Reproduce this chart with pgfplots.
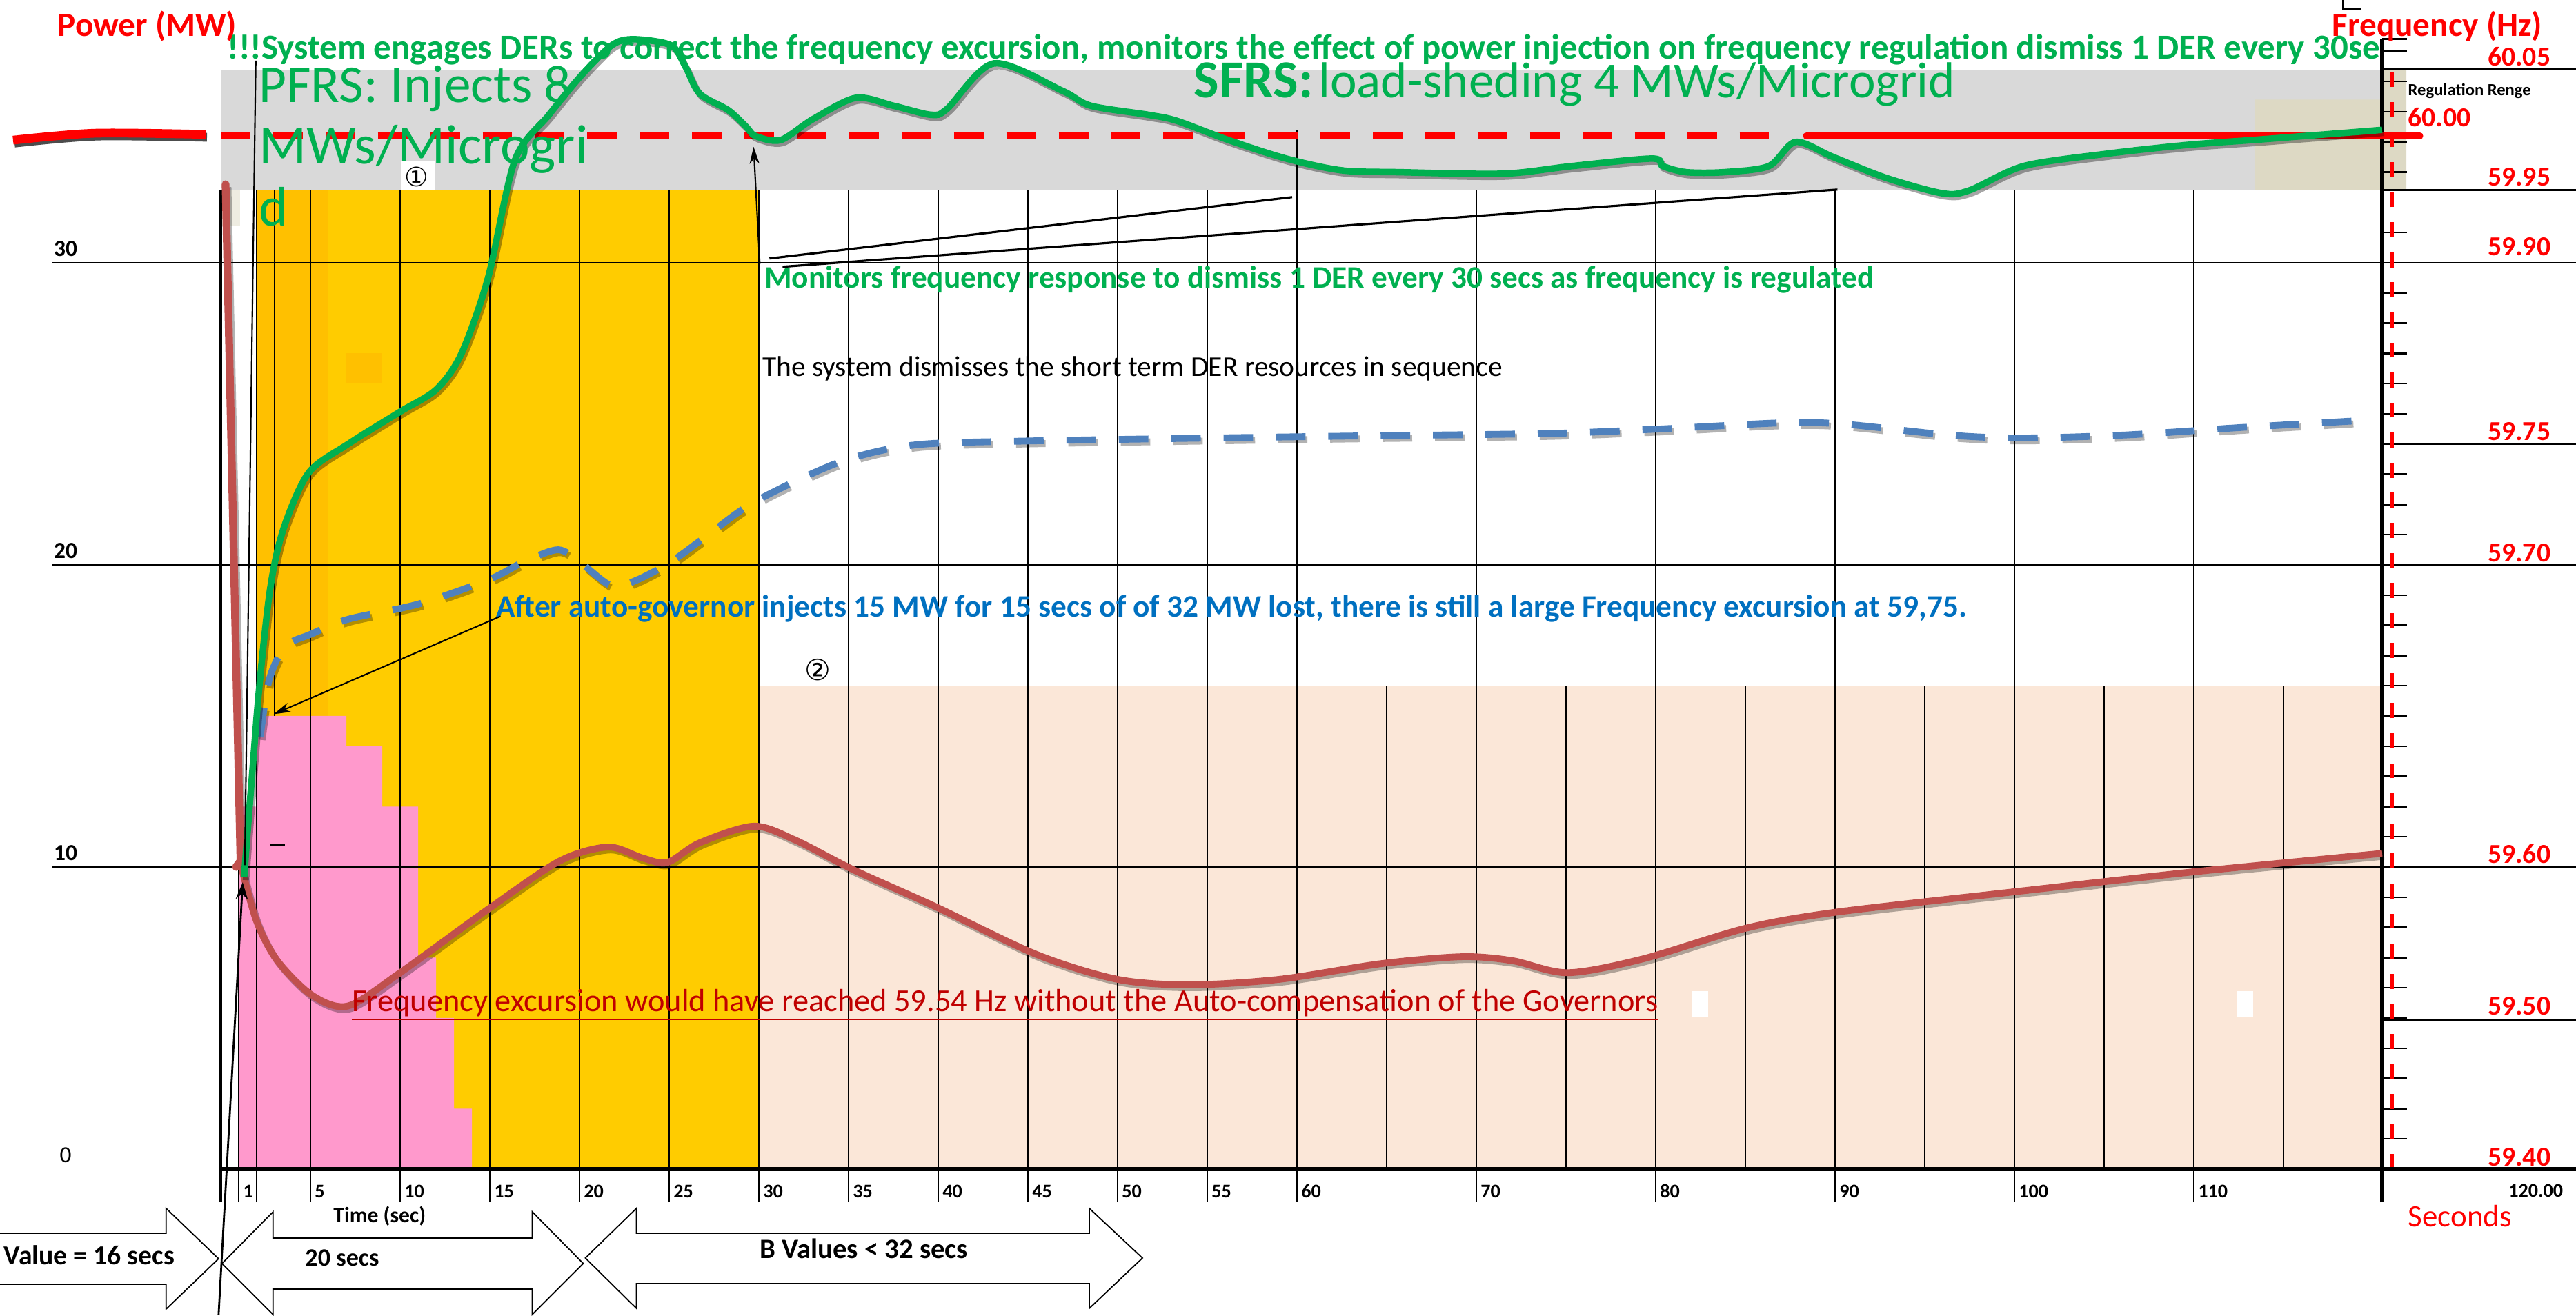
\documentclass[border=0pt]{standalone}
\usepackage{pgfplots}
\pgfplotsset{compat=1.18}
\usepackage{pgfplotstable}
\usepackage{fontspec}
\setmainfont{Carlito}
\newfontfamily\dejavu{DejaVu Sans}
\usetikzlibrary{arrows.meta}
\definecolor{cgreen}{HTML}{00B050}
\definecolor{cred}{HTML}{C0504D}
\definecolor{cblue}{HTML}{4F81BD}
\definecolor{tblue}{HTML}{0070C0}
\definecolor{dred}{HTML}{C00000}
\definecolor{yel}{HTML}{FFCC00}
\definecolor{yeld}{HTML}{FFC000}
\definecolor{pinkf}{HTML}{FF99CC}
\definecolor{peach}{HTML}{FBE7D8}
\definecolor{gband}{HTML}{D9D9D9}
\definecolor{beige}{HTML}{DDD9C4}
\definecolor{lbeige}{HTML}{EEECE1}
\newcommand{\fs}[1]{\fontsize{#1}{#1}\selectfont}

% frequency without governors (power-axis units)
\pgfplotstableread{
t P
1.15 10.0
2 8.2
3.15 6.9
5.1 5.75
7.1 5.4
10 6.5
14.9 8.6
18.9 10.2
21.6 10.66
23.5 10.3
24.9 10.15
26.7 10.8
29.7 11.35
32 10.9
35.3 9.9
39.8 8.7
45.5 7.1
50 6.28
54 6.1
59 6.28
64.7 6.8
69.2 7.03
72 6.9
75.1 6.5
79.3 6.96
85 7.97
90 8.5
100 9.18
110 9.84
120.5 10.45
}\redcurve
% frequency with DER response
\pgfplotstableread{
t P
1.3 9.66
1.7 12.7
2.17 16.1
2.77 19.27
3.5 21.2
4.9 23.05
7.1 24.0
10 25.07
12 25.8
13.4 26.97
14.9 29.5
16.4 33.4
18.3 34.9
20.1 36.2
21.8 37.2
23 37.4
25.1 37.2
25.9 36.5
26.7 35.6
28.3 35.05
29.3 34.5
29.8 34.2
31.2 34.06
33 34.75
35.4 35.46
37.5 35.2
39.6 34.9
40.5 35.1
43.1 36.6
46.9 35.7
48.5 35.2
51.7 34.9
53.3 34.7
56.2 34.06
59.4 33.45
62.5 33.06
65.7 33.0
71.5 32.95
75.3 33.2
79.8 33.45
80.4 33.2
81.7 33.0
83.8 33.0
86.3 33.2
87.8 34.0
89.9 33.5
92.9 32.8
96 32.3
97.5 32.4
100.5 33.2
105 33.6
109.6 33.9
114.1 34.1
120.5 34.4
}\greencurve
% frequency after auto-governor
\pgfplotstableread{
t P
2.2 14.3
2.7 16.2
3.6 17.3
5 17.7
7.1 18.2
11 18.7
14.9 19.5
16.9 20.1
18.8 20.5
20 20.1
21.8 19.3
23.2 19.5
25.1 20.1
27.1 20.96
29.8 22.1
34.5 23.4
38.7 23.97
44.9 24.1
55.3 24.2
63.7 24.27
74.1 24.35
80.3 24.5
87 24.7
90.5 24.66
96.3 24.3
100.3 24.2
106.2 24.3
112.7 24.55
120 24.8
}\bluecurve

\begin{document}
\begin{tikzpicture}
\begin{axis}[
  at={(3.20cm,2.13cm)}, anchor=south west,
  scale only axis, width=31.33cm, height=16.644cm,
  xmin=0, xmax=120.5, ymin=0, ymax=38,
  clip=false,
  axis line style={draw=none},
  major tick length=0pt,
  xtick={1,5,10,15,20,25,30,35,40,45,50,55,60,70,80,90,100,110},
  xticklabels={1,5,10,15,20,25,30,35,40,45,50,55,60,70,80,90,100,110},
  xticklabel style={anchor=west, font=\bfseries\fs{8pt}, xshift=-0.06cm, yshift=-0.32cm},
  ytick={0,10,20,30},
  yticklabels={0,\textbf{10},\textbf{20},\textbf{30}},
  yticklabel style={anchor=center, font=\fs{9.5pt}, xshift=-2.25cm, yshift=0.2cm},
]
% ---- background areas
\addplot[fill=gband, draw=none] coordinates {(0,32.4) (120.5,32.4) (120.5,36.4) (0,36.4)} --cycle;
\addplot[fill=beige, draw=none] coordinates {(113.4,32.4) (121.85,32.4) (121.85,36.4) (120.5,36.4) (120.5,35.4) (113.4,35.4)} --cycle;
\addplot[fill=yel, draw=none] coordinates {(2,0) (30,0) (30,32.4) (2,32.4)} --cycle;
\addplot[fill=yeld, draw=none] coordinates {(2,15) (6,15) (6,32.4) (2,32.4)} --cycle;
\addplot[fill=yeld, draw=none] coordinates {(7,26) (9,26) (9,27) (7,27)} --cycle;
\addplot[fill=lbeige, draw=none] coordinates {(0,31.2) (1.08,31.2) (1.08,32.4) (0,32.4)} --cycle;
\addplot[fill=pinkf, draw=none] coordinates {(1,0) (1,12) (2,12) (2,15) (7,15) (7,14) (9,14) (9,12) (11,12) (11,7) (12,7) (12,5) (13,5) (13,2) (14,2) (14,0)} --cycle;
\addplot[fill=peach, draw=none] coordinates {(30,0) (120.5,0) (120.5,16) (30,16)} --cycle;
% ---- grid
\pgfplotsinvokeforeach{2,5,10,15,20,25,30,35,40,45,50,55,70,80,90,100,110}{\draw[line width=0.75pt] (#1,-1.1) -- (#1,32.4);}
\draw[line width=0.75pt] (1,-1.1) -- (1,15);
\draw[line width=0.75pt] (3,15) -- (3,32.4);
\draw[line width=1.1pt] (60,-1.1) -- (60,34.4);
\pgfplotsinvokeforeach{65,75,85,95,105,115}{\draw[line width=0.35pt] (#1,0) -- (#1,16);}
\pgfplotsinvokeforeach{10,20,30}{\draw[line width=0.8pt] (-9.4,#1) -- (131.3,#1);}
\pgfplotsinvokeforeach{4.95,24,32.4,36.4}{\draw[line width=0.8pt] (120.5,#1) -- (131.3,#1);}
\pgfplotsinvokeforeach{1,2,3,4,5,6,7,8,9,11,12,13,14,15,16,17,18,19,21,22,23,25,26,27,28,29,31,33,34,35,36,37}{\draw[line width=0.7pt] (120.5,#1) -- (121.9,#1);}
\draw[red, line width=1.4pt, dash pattern=on 6.2pt off 6.2pt] (121.05,0) -- (121.05,36.4);
% axes
\draw[line width=1.7pt] (0,0) -- (131.3,0);
\draw[line width=1.4pt] (0,-1.1) -- (0,32.4);
\draw[line width=1.7pt] (120.5,-1.1) -- (120.5,37.4);
\draw[line width=0.8pt] (120.5,37.4) -- (121.9,37.4);
% ---- 60 Hz reference line
\addplot[black!70, line width=3.6pt, smooth, yshift=-1.2pt, xshift=0.6pt] coordinates {(-11.58,34.06) (-7.0,34.29) (-0.85,34.25)};
\addplot[red, line width=3.6pt, smooth] coordinates {(-11.58,34.06) (-7.0,34.29) (-0.85,34.25)};
\addplot[red, line width=2.8pt, dash pattern=on 12.2pt off 9.4pt] coordinates {(0,34.2) (87.2,34.2)};
\addplot[red, line width=2.8pt, line cap=round] coordinates {(88.4,34.2) (122.6,34.2)};
% ---- curves
\addplot[black, opacity=0.3, line width=2.8pt, dash pattern=on 12.2pt off 9.4pt, smooth, xshift=0.8pt, yshift=-1.2pt] table {\bluecurve};
\addplot[cblue, line width=2.8pt, dash pattern=on 12.2pt off 9.4pt, smooth] table {\bluecurve};
\addplot[black, opacity=0.3, line width=3.2pt, xshift=0.8pt, yshift=-1.2pt] coordinates {(0.27,32.6) (1.1,10.2) (0.85,10.0)};
\addplot[cred, line width=3.2pt, line cap=round, line join=round] coordinates {(0.27,32.6) (1.1,10.2) (0.85,10.0)};
\addplot[black, opacity=0.3, line width=2.8pt, smooth, xshift=0.8pt, yshift=-1.2pt] table {\redcurve};
\addplot[cred, line width=2.8pt, smooth] table {\redcurve};
\addplot[black, opacity=0.35, line width=2.7pt, smooth, xshift=0.8pt, yshift=-1.2pt] table {\greencurve};
\addplot[cgreen, line width=2.7pt, smooth] table {\greencurve};
\end{axis}

\begin{scope}[shift={(0,19.08cm)}, x=0.01cm, y=-0.01cm]
% title, clipped at right axis
\begin{scope}
\clip (320,0) rectangle (3450,200);
\node[anchor=base west, inner sep=0, text=cgreen, font=\bfseries\fs{14.5pt}] at (329,86) {!!!System engages DERs to correct the frequency excursion, monitors the effect of power injection on frequency regulation dismiss 1 DER every 30sec};
\end{scope}
\node[anchor=base west, inner sep=0, text=red, font=\bfseries\fs{14pt}] at (83,53) {Power (MW)};
\node[anchor=base west, inner sep=0, text=red, font=\bfseries\fs{14pt}] at (3382,53) {Frequency (Hz)};
\draw[line width=0.8pt] (3398,0) -- (3398,13) -- (3425,13);
% PFRS / SFRS
\node[anchor=base west, inner sep=0, text=cgreen, font=\fs{22pt}] at (375,149) {PFRS: Injects 8};
\node[anchor=base west, inner sep=0, text=cgreen, font=\fs{23pt}] at (375,238) {MWs/Microgri};
\node[anchor=base west, inner sep=0, text=cgreen, font=\fs{23pt}] at (375,328) {d};
\node[anchor=base west, inner sep=0, text=cgreen] at (1731,142) {{\bfseries\fs{22pt}SFRS:} {\fs{20.8pt}load-sheding 4 MWs/Microgrid}};
% circled numbers
\fill[white] (581,233) rectangle (631,276);
\node[font=\dejavu\fs{11pt}, inner sep=0] at (604,257) {①};
\node[font=\dejavu\fs{12pt}, inner sep=0] at (1186,972) {②};
% right frequency labels
\node[anchor=base west, inner sep=0, font=\bfseries\fs{7pt}] at (3492,139) {Regulation Renge};
\begin{scope}[every node/.style={anchor=east, inner sep=0, text=red, font=\bfseries\fs{11.3pt}}]
\node at (3700,82) {60.05};
\node at (3700,257) {59.95};
\node at (3700,358) {59.90};
\node at (3700,626) {59.75};
\node at (3700,802) {59.70};
\node at (3700,1239) {59.60};
\node at (3700,1459) {59.50};
\node at (3700,1679) {59.40};
\end{scope}
\node[anchor=west, inner sep=0, text=red, font=\bfseries\fs{11.3pt}] at (3492,170) {60.00};
% annotations
\node[anchor=base west, inner sep=0, text=cgreen, font=\bfseries\fs{12.9pt}] at (1108,418) {Monitors frequency response to dismiss 1 DER every 30 secs as frequency is regulated};
\node[anchor=base west, inner sep=0, font=\fs{11.8pt}] at (1105,546) {The system dismisses the short term DER resources in sequence};
\node[anchor=base west, inner sep=0, text=tblue, font=\bfseries\fs{12.9pt}] at (719,895) {After auto-governor injects 15 MW for 15 secs of of 32 MW lost, there is still a large Frequency excursion at 59,75.};
\node[anchor=base west, inner sep=0, text=dred, font=\fs{13.2pt}] at (510,1467) {\underline{Frequency excursion would have reached 59.54 Hz without the Auto-compensation of the Governors}};
\fill[white] (2453,1438) rectangle (2477,1475);
\fill[white] (3245,1438) rectangle (3268,1475);
\draw[line width=0.8pt] (392,1225) -- (413,1225);
% arrows and pointer lines
\draw[line width=0.6pt] (371,88) -- (355,1255);
\draw[line width=0.8pt, -{Stealth[length=7pt,width=5pt]}] (317,1908) -- (352,1280);
\draw[line width=0.6pt, -{Stealth[length=7pt,width=4pt]}] (726,894) -- (397,1036);
\draw[line width=0.6pt, -{Stealth[length=7pt,width=4pt]}] (1102,383) -- (1093,213);
\draw[line width=0.9pt] (1116,375) -- (1874,286);
\draw[line width=0.9pt] (1135,387) -- (2665,275);
% axis texts
\node[anchor=base west, inner sep=0, font=\bfseries\fs{9pt}] at (483,1774) {Time (sec)};
\node[anchor=east, inner sep=0, font=\bfseries\fs{8pt}] at (3718,1727) {120.00};
\node[anchor=base west, inner sep=0, text=red, font=\fs{12.8pt}] at (3492,1780) {Seconds};
% block arrows
\draw[fill=white, line width=0.5pt] (-10,1789) -- (241,1789) -- (241,1753) -- (317,1826) -- (241,1899) -- (241,1863) -- (-10,1863) -- cycle;
\draw[fill=white, line width=0.5pt] (322,1833) -- (396,1758) -- (396,1796) -- (772,1796) -- (772,1758) -- (846,1833) -- (772,1907) -- (772,1870) -- (396,1870) -- (396,1907) -- cycle;
\draw[fill=white, line width=0.5pt] (849,1825) -- (923,1753) -- (923,1789) -- (1580,1789) -- (1580,1753) -- (1657,1825) -- (1580,1898) -- (1580,1862) -- (923,1862) -- (923,1898) -- cycle;
\node[anchor=base east, inner sep=0, font=\bfseries\fs{11.3pt}] at (254,1835) {Value = 16 secs};
\node[anchor=base west, inner sep=0, font=\bfseries\fs{10.3pt}] at (442,1837) {20 secs};
\node[anchor=base west, inner sep=0, font=\bfseries\fs{11.6pt}] at (1101,1826) {B Values < 32 secs};
\end{scope}
\pgfresetboundingbox
\path[use as bounding box] (0,0) rectangle (37.34cm,19.08cm);
\end{tikzpicture}
\end{document}
